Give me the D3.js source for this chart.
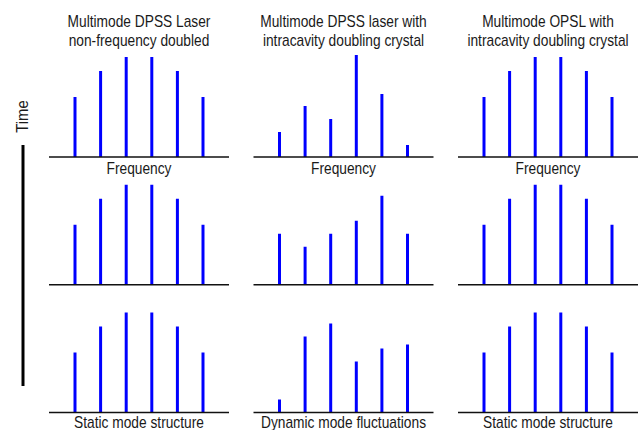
<!DOCTYPE html>
<html>
<head>
<meta charset="utf-8">
<script src="https://cdn.jsdelivr.net/npm/d3@7"></script>
<style>
  body { margin: 0; background: #fff; }
  text { font-family: "Liberation Sans", Arial, sans-serif; fill: #1a1a1a; font-size: 16px; }
</style>
</head>
<body>
<svg id="chart"></svg>
<script>
// Chart size
const width = 639;
const height = 430;

// Panel titles (two lines each)
const titles = [
    ["Multimode DPSS Laser", "non-frequency doubled"],
    ["Multimode DPSS laser with", "intracavity doubling crystal"],
    ["Multimode OPSL with", "intracavity doubling crystal"]
];
const bottomLabels = ["Static mode structure", "Dynamic mode fluctuations", "Static mode structure"];
const axisLabel = "Frequency";
const timeLabel = "Time";

// Mode intensities, one array per row (time step), per column
const modes = [0, 1, 2, 3, 4, 5];
const dpssStatic = [
    [60, 86, 100, 100, 86, 60],
    [60, 86, 100, 100, 86, 60],
    [60, 86, 100, 100, 86, 60]
];
const dpssDoubled = [
    [25, 51, 38, 102, 63, 12],
    [51, 38, 51, 64, 89, 51],
    [13, 76, 89, 51, 64, 68]
];
const opslDoubled = [
    [60, 86, 100, 100, 86, 60],
    [60, 86, 100, 100, 86, 60],
    [60, 86, 100, 100, 86, 60]
];
const columns = [dpssStatic, dpssDoubled, opslDoubled];

const svg = d3.select("#chart")
    .attr("width", width)
    .attr("height", height);

// Layout scales
const panelWidth = 180;
const panelX = d3.scaleLinear().domain([0, 2]).range([49, 458]);
const rowY = d3.scaleLinear().domain([0, 2]).range([157, 412.5]);
const x = d3.scalePoint().domain(modes).range([26, 154]);
const h = d3.scaleLinear().domain([0, 100]).range([0, 100]);

// narrow-looking text: squeeze horizontally
const narrow = 0.86;
function label(g, tx, ty, str) {
    return g.append("text")
        .attr("transform", `translate(${tx},${ty}) scale(${narrow},1)`)
        .attr("text-anchor", "middle")
        .text(str);
}

columns.forEach((rows, c) => {
    const g = svg.append("g").attr("transform", `translate(${panelX(c)},0)`);

    // title
    titles[c].forEach((t, i) => label(g, panelWidth / 2, 26.5 + i * 19, t));

    rows.forEach((vals, r) => {
        const base = rowY(r);
        g.selectAll(`line.bar-${r}`)
            .data(vals)
            .enter()
            .append("line")
            .attr("class", `bar-${r}`)
            .attr("x1", (d, i) => x(modes[i]))
            .attr("x2", (d, i) => x(modes[i]))
            .attr("y1", base)
            .attr("y2", d => base - h(d))
            .attr("stroke", "#0000ff")
            .attr("stroke-width", 3);

        g.append("line")
            .attr("x1", 0)
            .attr("x2", panelWidth)
            .attr("y1", base)
            .attr("y2", base)
            .attr("stroke", "#111")
            .attr("stroke-width", 1.6);
    });

    // axis label under the first row
    label(g, panelWidth / 2, rowY(0) + 16.5, axisLabel);

    // label under the last row
    label(g, panelWidth / 2, rowY(2) + 15.5, bottomLabels[c]);
});

// Time arrow on the left
svg.append("text")
    .attr("transform", "translate(28,116.5) rotate(-90) scale(0.93,1)")
    .attr("text-anchor", "middle")
    .text(timeLabel);

svg.append("line")
    .attr("x1", 23)
    .attr("x2", 23)
    .attr("y1", 145)
    .attr("y2", 386)
    .attr("stroke", "#000")
    .attr("stroke-width", 3);
</script>
</body>
</html>
